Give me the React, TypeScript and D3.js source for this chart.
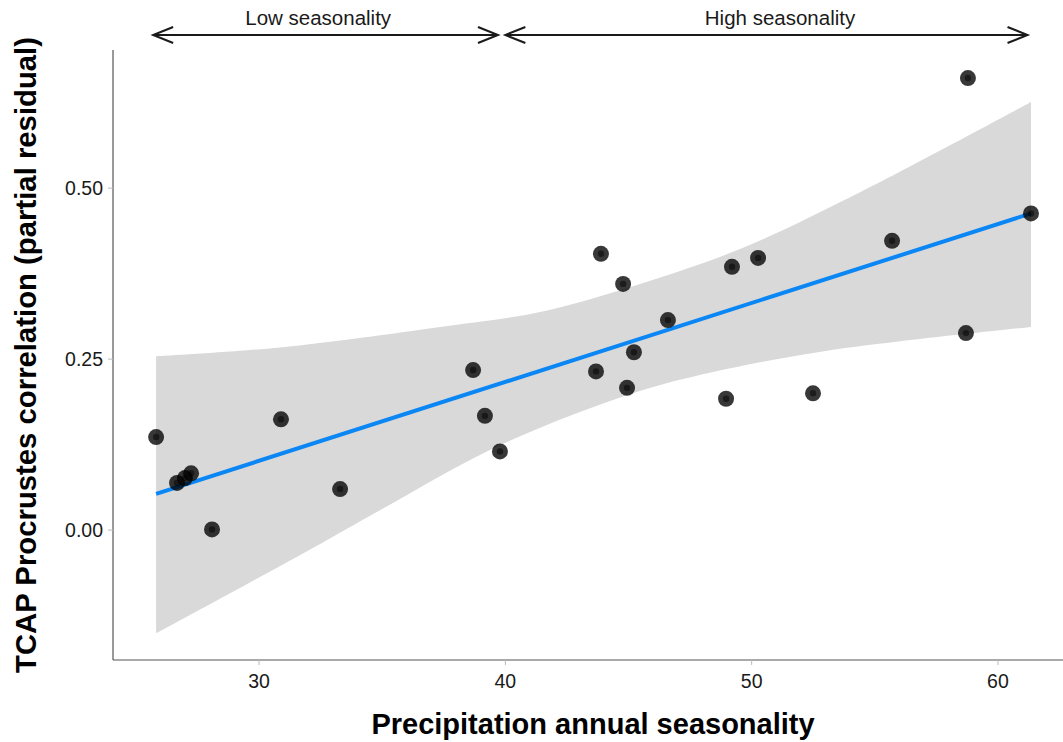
import * as d3 from "d3";
import { useEffect, useRef } from "react";

// points: precipitation seasonality vs partial residual
const seasonality = [
  25.82, 26.67, 26.99, 27.24, 28.09, 30.89, 33.29, 38.69, 39.17, 39.78, 43.68, 43.88,
  44.78, 44.94, 45.22, 46.6, 48.96, 49.2, 50.26, 52.49, 55.7, 58.7, 58.78, 61.34,
];
const residual = [
  0.136, 0.069, 0.076, 0.083, 0.001, 0.162, 0.06, 0.234, 0.167, 0.115, 0.232, 0.404,
  0.36, 0.208, 0.26, 0.307, 0.192, 0.385, 0.398, 0.2, 0.423, 0.288, 0.661, 0.463,
];

// fitted line ends
const fitX = [25.82, 61.34];
const fitY = [0.053, 0.463];

// confidence band edges
const upperX = [25.82, 30.85, 37.35, 41.41, 45.47, 49.53, 54.4, 61.34];
const upperY = [0.254, 0.267, 0.297, 0.319, 0.36, 0.411, 0.494, 0.626];
const lowerX = [25.82, 31.95, 34.91, 39.78, 45.18, 48.43, 52.49, 56.02, 61.34];
const lowerY = [-0.151, -0.031, 0.029, 0.124, 0.2, 0.231, 0.259, 0.276, 0.297];

const xTicks = [30, 40, 50, 60];
const yTicks = [0, 0.25, 0.5];

const arrowLabels = ["Low seasonality", "High seasonality"];
const arrowFrom = [25.7, 40.0];
const arrowTo = [39.7, 61.2];
const labelAt = [32.4, 51.15];

const width = 1063;
const height = 742;

const App = () => {
  const ref = useRef(null);

  useEffect(() => {
    const svg = d3.select(ref.current);
    svg.selectAll("*").remove();

    const x = d3.scaleLinear().domain([24.07, 62.64]).range([113, 1063]);
    const y = d3.scaleLinear().domain([-0.19, 0.702]).range([660, 50]);

    const font = "'Liberation Sans', Arial, sans-serif";

    // band: upper edge left->right, lower edge right->left
    const edge = d3
      .line<[number, number]>()
      .x((d) => x(d[0]))
      .y((d) => y(d[1]))
      .curve(d3.curveCatmullRom.alpha(0.5));
    const upPts = upperX.map((v, i) => [v, upperY[i]] as [number, number]);
    const loPts = lowerX.map((v, i) => [v, lowerY[i]] as [number, number]).reverse();
    const bandPath = edge(upPts) + "L" + (edge(loPts) || "").slice(1) + "Z";
    svg.append("path").attr("d", bandPath).attr("fill", "#d9d9d9");

    // axes
    svg
      .append("line")
      .attr("x1", 113)
      .attr("x2", 113)
      .attr("y1", 50)
      .attr("y2", 660)
      .attr("stroke", "#555")
      .attr("stroke-width", 1.2);
    svg
      .append("line")
      .attr("x1", 113)
      .attr("x2", 1063)
      .attr("y1", 660)
      .attr("y2", 660)
      .attr("stroke", "#555")
      .attr("stroke-width", 1.2);

    const gx = svg.append("g");
    xTicks.forEach((t) => {
      gx.append("line")
        .attr("x1", x(t))
        .attr("x2", x(t))
        .attr("y1", 660)
        .attr("y2", 665)
        .attr("stroke", "#bbb");
      gx.append("text")
        .attr("x", x(t))
        .attr("y", 688)
        .attr("text-anchor", "middle")
        .attr("font-family", font)
        .attr("font-size", 19.5)
        .attr("fill", "#1a1a1a")
        .text(d3.format("d")(t));
    });
    const gy = svg.append("g");
    yTicks.forEach((t) => {
      gy.append("line")
        .attr("x1", 108)
        .attr("x2", 113)
        .attr("y1", y(t))
        .attr("y2", y(t))
        .attr("stroke", "#bbb");
      gy.append("text")
        .attr("x", 103)
        .attr("y", y(t) + 7)
        .attr("text-anchor", "end")
        .attr("font-family", font)
        .attr("font-size", 19.5)
        .attr("fill", "#1a1a1a")
        .text(d3.format(".2f")(t));
    });

    // fit line
    svg
      .append("line")
      .attr("x1", x(fitX[0]))
      .attr("y1", y(fitY[0]))
      .attr("x2", x(fitX[1]))
      .attr("y2", y(fitY[1]))
      .attr("stroke", "#0a86f5")
      .attr("stroke-width", 4);

    // points
    const pts = seasonality.map((v, i) => ({ sx: v, r: residual[i] }));
    svg
      .append("g")
      .selectAll("circle")
      .data(pts)
      .enter()
      .append("circle")
      .attr("cx", (d) => x(d.sx))
      .attr("cy", (d) => y(d.r))
      .attr("r", 8)
      .attr("fill", "#000")
      .attr("fill-opacity", 0.78);
    svg
      .append("g")
      .selectAll("circle")
      .data(pts)
      .enter()
      .append("circle")
      .attr("cx", (d) => x(d.sx))
      .attr("cy", (d) => y(d.r))
      .attr("r", 3.2)
      .attr("fill", "#000")
      .attr("fill-opacity", 0.5);

    // seasonality arrows
    const ay = 35;
    arrowLabels.forEach((lab, i) => {
      const g = svg.append("g").attr("stroke", "#1a1a1a").attr("stroke-width", 2).attr("fill", "none");
      const x0 = x(arrowFrom[i]);
      const x1 = x(arrowTo[i]);
      g.append("line").attr("x1", x0).attr("x2", x1).attr("y1", ay).attr("y2", ay);
      g.append("path").attr("d", `M${x0 + 20},${ay - 8}L${x0},${ay}L${x0 + 20},${ay + 8}`);
      g.append("path").attr("d", `M${x1 - 20},${ay - 8}L${x1},${ay}L${x1 - 20},${ay + 8}`);
      svg
        .append("text")
        .attr("x", x(labelAt[i]))
        .attr("y", 25)
        .attr("text-anchor", "middle")
        .attr("font-family", font)
        .attr("font-size", 20.5)
        .attr("fill", "#1a1a1a")
        .text(lab);
    });

    // titles
    svg
      .append("text")
      .attr("x", 593)
      .attr("y", 734)
      .attr("text-anchor", "middle")
      .attr("font-family", font)
      .attr("font-weight", "bold")
      .attr("font-size", 29)
      .attr("fill", "#000")
      .text("Precipitation annual seasonality");
    svg
      .append("text")
      .attr("transform", "translate(36,355) rotate(-90)")
      .attr("text-anchor", "middle")
      .attr("font-family", font)
      .attr("font-weight", "bold")
      .attr("font-size", 29.3)
      .attr("fill", "#000")
      .text("TCAP Procrustes correlation (partial residual)");
  }, []);

  return (
    <svg
      ref={ref}
      width={width}
      height={height}
      style={{ position: "absolute", left: 0, top: 0, background: "#fff" }}
    />
  );
};

export default App;
